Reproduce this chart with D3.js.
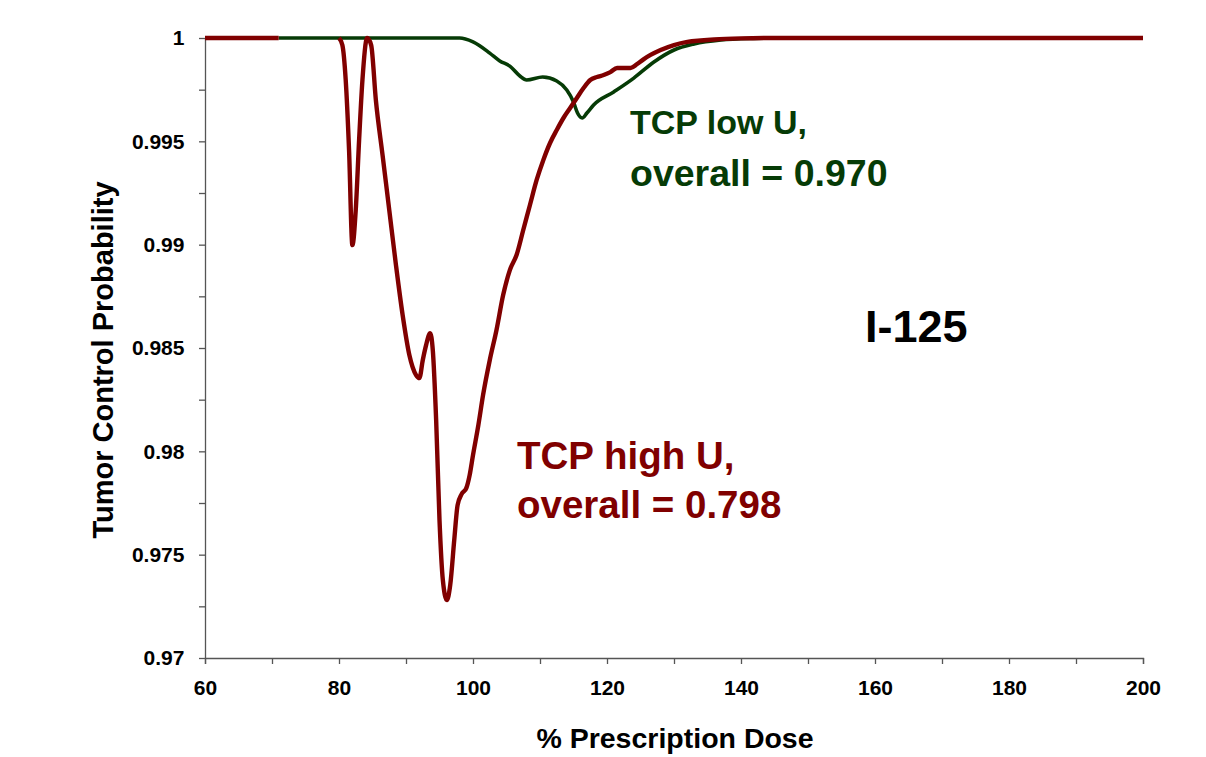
<!DOCTYPE html>
<html>
<head>
<meta charset="utf-8">
<script src="https://cdn.jsdelivr.net/npm/d3@7"></script>
<style>
  body { margin: 0; background: #fff; }
  svg text { font-family: "Liberation Sans", Arial, sans-serif; font-weight: bold; }
  .axis path, .axis line { stroke: #555; stroke-width: 1.3; }
  .axis text { font-size: 21px; fill: #000; }
</style>
</head>
<body>
<div id="vis"></div>
<script>
// TCP high U (dark red); null = gap in the series
const doseHigh = [60, 71, 75, 80, 80.5, 81, 81.5, 82, 82.5, 83, 83.5, 84.2, 84.8, 85.5, 86.5, 87.5, 88.5, 89.5, 90.5, 91.5, 92,
    92.5, 93, 93.6, 94, 94.5, 95, 95.5, 96.1, 96.6, 97.2, 97.7, 98.3, 99, 99.5, 100, 100.8, 101.5, 102.5, 103.5, 104.5,
    105.5, 106.5, 107.5, 108.5, 109.5, 110.5, 111.5, 112.5, 113.5, 114.5, 115.5, 116.5, 117.5, 118.5, 119.5, 120.5,
    121.5, 122.5, 123.5, 124.5, 125.5, 126.5, 128, 130, 132, 134, 136, 140, 145, 200];
const tcpHigh = [1, 1, null, 1, 0.99966, 0.99797, 0.99458, 0.98998, 0.99168, 0.99506, 0.99797, 1, 0.99966, 0.997, 0.99434,
    0.99168, 0.98902, 0.98659, 0.98466, 0.98369, 0.98354, 0.98441, 0.98514, 0.98572, 0.98489, 0.98151, 0.97667, 0.97377,
    0.9728, 0.97353, 0.97571, 0.9774, 0.97793, 0.97822, 0.97885, 0.97982, 0.98127, 0.98272, 0.98441, 0.98586, 0.98756,
    0.98877, 0.9895, 0.99071, 0.99192, 0.99313, 0.9941, 0.99492, 0.99555, 0.99613, 0.99661, 0.9971, 0.99758, 0.99797,
    0.99811, 0.99821, 0.99835, 0.99855, 0.99855, 0.99855, 0.99874, 0.99898, 0.99918, 0.99942, 0.99966, 0.99981, 0.99988,
    0.99993, 0.99998, 1, 1];

// TCP low U (dark green)
const doseLow = [71, 98, 100, 102.5, 104, 105.5, 107, 108, 110.4, 112.5, 114, 115, 115.6, 116.3, 117, 118, 121, 124, 127,
    130, 133, 137, 142, 145, 150];
const tcpLow = [1, 1, 0.99981, 0.99927, 0.99889, 0.99864, 0.99816, 0.99797, 0.99811, 0.99792, 0.99748, 0.9969, 0.99637,
    0.99613, 0.99637, 0.99676, 0.99739, 0.99806, 0.99884, 0.99942, 0.99971, 0.9999, 0.99998, 1, 1];

const xTicks = [60, 70, 80, 90, 100, 110, 120, 130, 140, 150, 160, 170, 180, 190, 200];
const yTicks = [0.97, 0.9725, 0.975, 0.9775, 0.98, 0.9825, 0.985, 0.9875, 0.99, 0.9925, 0.995, 0.9975, 1];
const yLabels = { 0.97: "0.97", 0.975: "0.975", 0.98: "0.98", 0.985: "0.985", 0.99: "0.99", 0.995: "0.995", 1: "1" };

const W = 1206, H = 757;
const margin = { top: 38, right: 63, bottom: 99, left: 205 };
const width = W - margin.left - margin.right;
const height = H - margin.top - margin.bottom;

const svg = d3.select("#vis").append("svg")
    .attr("width", W)
    .attr("height", H);
svg.append("rect").attr("width", W).attr("height", H).attr("fill", "#fff");

const g = svg.append("g").attr("transform", `translate(${margin.left},${margin.top})`);

const x = d3.scaleLinear().domain([60, 200]).range([0, width]);
const y = d3.scaleLinear().domain([0.97, 1]).range([height, 0]);

// axes
g.append("g")
    .attr("class", "axis")
    .attr("transform", `translate(0,${height})`)
    .call(d3.axisBottom(x).tickValues(xTicks).tickSize(6).tickSizeOuter(6)
        .tickFormat(d => d % 20 === 0 ? d : ""))
    .selectAll("text").attr("dy", "1.35em");

g.append("g")
    .attr("class", "axis")
    .call(d3.axisLeft(y).tickValues(yTicks).tickSize(6).tickSizeOuter(0)
        .tickFormat(d => yLabels[d] || ""))
    .selectAll("text").attr("dx", "-0.55em");

// series
const lineGen = d3.line()
    .defined(d => d[1] !== null)
    .x(d => x(d[0]))
    .y(d => y(d[1]))
    .curve(d3.curveMonotoneX);

g.append("path")
    .datum(doseLow.map((d, i) => [d, tcpLow[i]]))
    .attr("fill", "none")
    .attr("stroke", "#063b06")
    .attr("stroke-width", 3.6)
    .attr("stroke-linejoin", "round")
    .attr("d", lineGen);

g.append("path")
    .datum(doseHigh.map((d, i) => [d, tcpHigh[i]]))
    .attr("fill", "none")
    .attr("stroke", "#800000")
    .attr("stroke-width", 4.4)
    .attr("stroke-linejoin", "round")
    .attr("d", lineGen);

// axis titles
svg.append("text")
    .attr("x", 675).attr("y", 748)
    .attr("text-anchor", "middle")
    .style("font-size", "28.5px")
    .text("% Prescription Dose");

svg.append("text")
    .attr("transform", "rotate(-90)")
    .attr("x", -360).attr("y", 113)
    .attr("text-anchor", "middle")
    .style("font-size", "29px")
    .text("Tumor Control Probability");

// annotations
const ann = [
    { text: "TCP low U,", x: 630, y: 134, color: "#063b06", size: 34 },
    { text: "overall = 0.970", x: 630, y: 186, color: "#063b06", size: 37.5 },
    { text: "TCP high U,", x: 517, y: 469, color: "#800000", size: 38.5 },
    { text: "overall = 0.798", x: 517, y: 518, color: "#800000", size: 38.5 },
    { text: "I-125", x: 865, y: 342, color: "#000", size: 45 }
];
svg.selectAll(".ann").data(ann).enter().append("text")
    .attr("class", "ann")
    .attr("x", d => d.x).attr("y", d => d.y)
    .attr("fill", d => d.color)
    .style("font-size", d => d.size + "px")
    .text(d => d.text);
</script>
</body>
</html>
